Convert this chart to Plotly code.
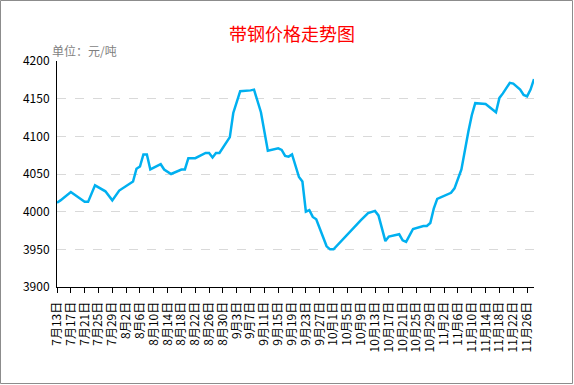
import plotly.graph_objects as go

# ---- data ----
dates = [
    "2020-07-13", "2020-07-14", "2020-07-17", "2020-07-21", "2020-07-22", "2020-07-24",
    "2020-07-27", "2020-07-29", "2020-07-31", "2020-08-04", "2020-08-05", "2020-08-06",
    "2020-08-07", "2020-08-08", "2020-08-09", "2020-08-11", "2020-08-12", "2020-08-13",
    "2020-08-15", "2020-08-18", "2020-08-19", "2020-08-20", "2020-08-22", "2020-08-25",
    "2020-08-26", "2020-08-27", "2020-08-28", "2020-08-29", "2020-09-01", "2020-09-02",
    "2020-09-04", "2020-09-07", "2020-09-08", "2020-09-10", "2020-09-12", "2020-09-15",
    "2020-09-16", "2020-09-17", "2020-09-18", "2020-09-19", "2020-09-21", "2020-09-22",
    "2020-09-23", "2020-09-24", "2020-09-25", "2020-09-26", "2020-09-29", "2020-09-30",
    "2020-10-01", "2020-10-09", "2020-10-11", "2020-10-13", "2020-10-14", "2020-10-16",
    "2020-10-17", "2020-10-20", "2020-10-21", "2020-10-22", "2020-10-24", "2020-10-27",
    "2020-10-28", "2020-10-29", "2020-10-30", "2020-10-31", "2020-11-04", "2020-11-05",
    "2020-11-07", "2020-11-09", "2020-11-10", "2020-11-11", "2020-11-13", "2020-11-14",
    "2020-11-17", "2020-11-18", "2020-11-19", "2020-11-21", "2020-11-22", "2020-11-24",
    "2020-11-25", "2020-11-26", "2020-11-27", "2020-11-28",
]
prices = [
    4012, 4015, 4026, 4013, 4013, 4035,
    4027, 4015, 4028, 4040, 4057, 4060,
    4076, 4076, 4056, 4061, 4063, 4056,
    4050, 4056, 4056, 4071, 4071, 4078,
    4078, 4072, 4078, 4078, 4099, 4131,
    4160, 4161, 4162, 4132, 4081, 4084,
    4082, 4074, 4073, 4076, 4046, 4040,
    4000, 4002, 3993, 3990, 3954, 3950,
    3950, 3989, 3998, 4001, 3995, 3961,
    3967, 3970, 3962, 3960, 3977, 3981,
    3981, 3985, 4004, 4017, 4025, 4031,
    4056, 4106, 4128, 4144, 4144, 4143,
    4132, 4151, 4157, 4171, 4170, 4162,
    4155, 4153, 4162, 4176,
]
tick_dates = [
    "2020-07-13", "2020-07-17", "2020-07-21", "2020-07-25", "2020-07-29", "2020-08-02",
    "2020-08-06", "2020-08-10", "2020-08-14", "2020-08-18", "2020-08-22", "2020-08-26",
    "2020-08-30", "2020-09-03", "2020-09-07", "2020-09-11", "2020-09-15", "2020-09-19",
    "2020-09-23", "2020-09-27", "2020-10-01", "2020-10-05", "2020-10-09", "2020-10-13",
    "2020-10-17", "2020-10-21", "2020-10-25", "2020-10-29", "2020-11-02", "2020-11-06",
    "2020-11-10", "2020-11-14", "2020-11-18", "2020-11-22", "2020-11-26",
]
tick_labels = [
    "7月13日", "7月17日", "7月21日", "7月25日", "7月29日", "8月2日",
    "8月6日", "8月10日", "8月14日", "8月18日", "8月22日", "8月26日",
    "8月30日", "9月3日", "9月7日", "9月11日", "9月15日", "9月19日",
    "9月23日", "9月27日", "10月1日", "10月5日", "10月9日", "10月13日",
    "10月17日", "10月21日", "10月25日", "10月29日", "11月2日", "11月6日",
    "11月10日", "11月14日", "11月18日", "11月22日", "11月26日",
]
y_ticks = [3900, 3950, 4000, 4050, 4100, 4150, 4200]
title_text = "带钢价格走势图"
unit_text = "单位：元/吨"

# ---- layout geometry (pixels) ----
W, H = 574, 385
L, R, T, B = 57, 534, 61, 287

def px_x(p):
    return (p - L) / (R - L)

def px_y(p):
    return (B - p) / (B - T)

fig = go.Figure()
fig.add_trace(go.Scatter(
    x=dates, y=prices, mode="lines",
    line=dict(color="#00B0F0", width=2.5),
    hoverinfo="x+y", showlegend=False,
))

font_cjk = "Noto Sans CJK SC, Noto Sans, sans-serif"

fig.update_layout(
    width=W, height=H,
    margin=dict(l=L, r=W - R, t=T, b=H - B, pad=0),
    paper_bgcolor="white", plot_bgcolor="white",
    font=dict(family=font_cjk, size=12, color="#000000"),
    xaxis=dict(
        type="date",
        range=["2020-07-13", "2020-11-28"],
        tickmode="array", tickvals=tick_dates, ticktext=tick_labels,
        tickangle=-90,
        ticks="outside", ticklen=5, tickcolor="#000000", tickwidth=1,
        showline=True, linecolor="#000000", linewidth=1,
        showgrid=False, zeroline=False,
        tickfont=dict(size=12, color="#000000"),
        ticklabelstandoff=4,
    ),
    yaxis=dict(
        range=[3900, 4200],
        tickmode="array", tickvals=y_ticks,
        ticks="", showline=True, linecolor="#000000", linewidth=1,
        showgrid=True, gridcolor="#D9D9D9", griddash="dash", gridwidth=1,
        zeroline=False,
        tickfont=dict(size=12, color="#000000"),
        ticklabelstandoff=4,
    ),
    annotations=[
        dict(text=title_text, xref="paper", yref="paper",
             x=px_x(292), y=px_y(33), xanchor="center", yanchor="middle",
             showarrow=False, font=dict(size=18, color="#FF0000", family=font_cjk)),
        dict(text=unit_text, xref="paper", yref="paper",
             x=px_x(50), y=px_y(50), xanchor="left", yanchor="middle",
             showarrow=False, font=dict(size=12, color="#7F7F7F", family=font_cjk)),
    ],
    shapes=[
        dict(type="rect", xref="paper", yref="paper",
             x0=px_x(0.5), x1=px_x(572.5), y0=px_y(383.5), y1=px_y(0.5),
             line=dict(color="#8C8C8C", width=1), fillcolor="rgba(0,0,0,0)", layer="above"),
    ],
)

fig.write_html(
    "out.html",
    config={"displayModeBar": False},
    post_script="document.body.style.margin='0';document.body.style.overflow='hidden';",
)
